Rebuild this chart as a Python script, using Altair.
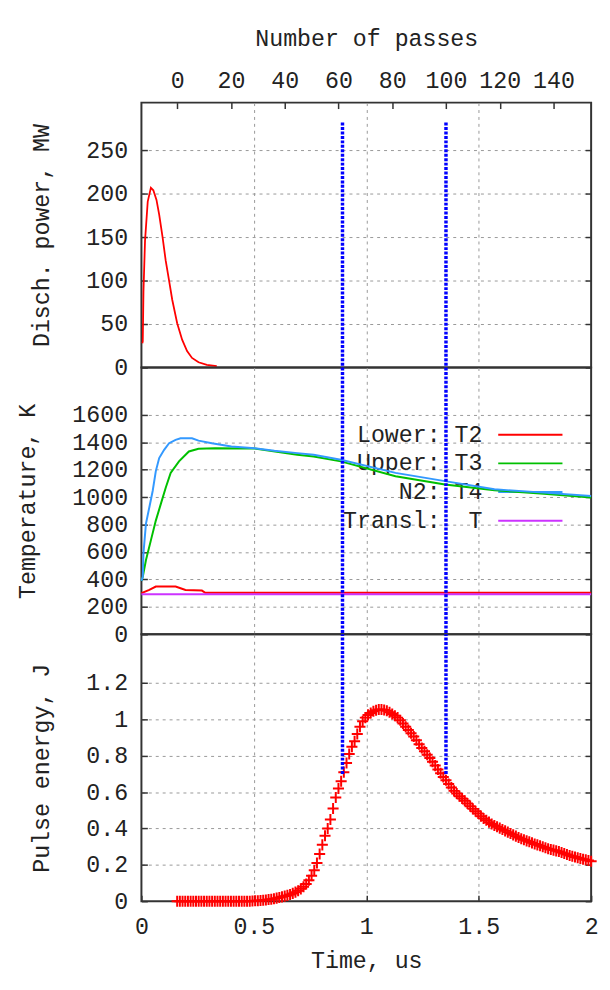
import altair as alt
import pandas as pd

# ---------------- data ----------------
POWER_T = [0.004, 0.006, 0.009, 0.016, 0.028, 0.042, 0.053, 0.067, 0.079, 0.094,
           0.108, 0.123, 0.137, 0.159, 0.181, 0.203, 0.225, 0.254, 0.291, 0.335]
POWER_MW = [28, 30, 87, 146, 191, 207, 204, 193, 176, 150,
            123, 100, 78, 51, 32, 19, 11, 6, 3, 1.5]

T2_T = [0.0, 0.035, 0.064, 0.152, 0.174, 0.196, 0.269, 0.284, 2.0]
T2_K = [300, 324, 348, 348, 336, 324, 319, 303, 303]

T3_T = [0.0, 0.006, 0.02, 0.042, 0.064, 0.086, 0.108, 0.13, 0.167, 0.211, 0.254,
        0.327, 0.503, 0.693, 0.766, 0.887, 1.13, 1.35, 1.57, 1.79, 2.0]
T3_K = [390, 420, 540, 685, 829, 949, 1069, 1177, 1261, 1333, 1353,
        1357, 1355, 1309, 1297, 1261, 1153, 1093, 1050, 1025, 997]

T4_T = [0.0, 0.006, 0.009, 0.02, 0.035, 0.05, 0.064, 0.079, 0.101, 0.123, 0.152,
        0.174, 0.225, 0.254, 0.313, 0.4, 0.503, 0.591, 0.693, 0.766, 0.887,
        1.13, 1.35, 1.57, 1.79, 2.0]
T4_K = [390, 420, 590, 805, 925, 1045, 1190, 1285, 1345, 1393, 1418,
        1429, 1429, 1412, 1393, 1369, 1357, 1338, 1321, 1309, 1273,
        1177, 1117, 1057, 1033, 1009]

TR_T = [0.0, 2.0]
TR_K = [293, 293]

ENERGY_J = [
    0, 0, 0, 0, 0, 0, 0, 0, 0, 0,
    0, 0, 0, 0, 0, 0, 0, 0, 0, 0,
    0, 0, 0, 0, 0, 0, 0, 0, 0.001, 0.002,
    0.003, 0.004, 0.005, 0.007, 0.009, 0.011, 0.014, 0.017, 0.02, 0.024,
    0.028, 0.032, 0.037, 0.043, 0.05, 0.058, 0.068, 0.08, 0.095, 0.115,
    0.14, 0.17, 0.21, 0.26, 0.31, 0.36, 0.40, 0.45, 0.51, 0.57,
    0.62, 0.66, 0.71, 0.76, 0.81, 0.85, 0.88, 0.92, 0.96, 0.99,
    1.01, 1.025, 1.035, 1.045, 1.05, 1.055, 1.055, 1.052, 1.048, 1.04,
    1.03, 1.02, 1.01, 0.995, 0.978, 0.96, 0.942, 0.924, 0.906, 0.885,
    0.864, 0.843, 0.825, 0.806, 0.788, 0.767, 0.746, 0.725, 0.704, 0.683,
    0.665, 0.645, 0.625, 0.607, 0.592, 0.578, 0.565, 0.553, 0.538, 0.523,
    0.508, 0.495, 0.482, 0.468, 0.455, 0.445, 0.435, 0.425, 0.417, 0.41,
    0.402, 0.395, 0.387, 0.38, 0.372, 0.365, 0.358, 0.35, 0.344, 0.338,
    0.332, 0.327, 0.321, 0.315, 0.31, 0.305, 0.3, 0.294, 0.289, 0.285,
    0.281, 0.277, 0.273, 0.268, 0.262, 0.257, 0.252, 0.247, 0.243, 0.239,
    0.235, 0.231, 0.228, 0.224, 0.22,
]
ENERGY_PASS = list(range(len(ENERGY_J)))

BLUE_PASSES = [61.5, 100]
BLUE_TOP_MW = 282
BLUE_BOTTOM_J = 0.7

PASSES_AT_T0 = -13.3
PASSES_PER_US = 83.65

TIME_TICKS = [0, 0.5, 1, 1.5, 2]
PASS_TICKS = [0, 20, 40, 60, 80, 100, 120, 140]
POWER_TICKS = [0, 50, 100, 150, 200, 250]
TEMP_TICKS = [0, 200, 400, 600, 800, 1000, 1200, 1400, 1600]
ENERGY_TICKS = [0, 0.2, 0.4, 0.6, 0.8, 1.0, 1.2]

POWER_DOMAIN = [0, 305]
TEMP_DOMAIN = [0, 1945]
ENERGY_DOMAIN = [0, 1.468]

LEGEND_LABELS = ["Lower: T2", "Upper: T3", "N2: T4", "Transl:\u00a0 T"]
SERIES_COLORS = ["#ff0000", "#00c000", "#3399ff", "#cc33ff"]

# ---------------- layout / style ----------------
FONT = "Liberation Mono"
FS = 23.5
W = 455
H1, H2, H3 = 268, 270, 270
INNER = 6
PLUS = "M-1,0H1M0,-1V1"


def tscale():
    return alt.Scale(domain=[0, 2], nice=False, zero=False)


def pscale():
    return alt.Scale(domain=[PASSES_AT_T0, PASSES_AT_T0 + 2 * PASSES_PER_US],
                     nice=False, zero=False)


def yscale(dom):
    return alt.Scale(domain=dom, nice=False, zero=False)


def frame_layers(ydom, yticks, ytitle, fmt, bottom_axis=None):
    anchor = pd.DataFrame({"t": [0, 2], "v": ydom})
    base = alt.Chart(anchor).mark_point(opacity=0, size=1)
    grid = base.encode(
        x=alt.X("t:Q", scale=tscale(),
                axis=alt.Axis(orient="bottom", values=[0.5, 1, 1.5], grid=True,
                              labels=False, ticks=False, domain=False, title=None)),
        y=alt.Y("v:Q", scale=yscale(ydom),
                axis=alt.Axis(orient="left", values=yticks[1:], grid=True,
                              labels=False, ticks=False, domain=False, title=None)),
    )
    left = base.encode(
        x=alt.X("t:Q", scale=tscale(), axis=bottom_axis),
        y=alt.Y("v:Q", scale=yscale(ydom),
                axis=alt.Axis(orient="left", values=yticks, format=fmt,
                              offset=-INNER, tickSize=INNER, domain=False,
                              grid=False, labelPadding=14, title=ytitle,
                              titlePadding=33)),
    )
    right = base.encode(
        x=alt.X("t:Q", scale=tscale(), axis=None),
        y=alt.Y("v:Q", scale=yscale(ydom),
                axis=alt.Axis(orient="right", values=yticks, offset=-INNER,
                              tickSize=INNER, domain=False, grid=False,
                              labels=False, title=None)),
    )
    return [grid, left, right]


blue_style = dict(color="#0000ff", strokeWidth=3.5, strokeDash=[3, 1.5])

# ---- panel 1: discharge power ----
df_power = pd.DataFrame({"t": POWER_T, "P": POWER_MW})
power_line = alt.Chart(df_power).mark_line(color="#ff0000", strokeWidth=1.8).encode(
    x=alt.X("t:Q", scale=tscale(), axis=None),
    y=alt.Y("P:Q", scale=yscale(POWER_DOMAIN), axis=None),
)
df_blue1 = pd.DataFrame({"p": BLUE_PASSES, "ytop": BLUE_TOP_MW, "ybot": 0})
blue1 = alt.Chart(df_blue1).mark_rule(**blue_style).encode(
    x=alt.X("p:Q", scale=pscale(),
            axis=alt.Axis(orient="top", values=PASS_TICKS, format="d",
                          offset=-INNER, tickSize=INNER, domain=False,
                          grid=False, labelPadding=10,
                          title="Number of passes", titlePadding=19)),
    y=alt.Y("ytop:Q", scale=yscale(POWER_DOMAIN), axis=None),
    y2="ybot:Q",
)
p1 = alt.layer(
    *frame_layers(POWER_DOMAIN, POWER_TICKS, "Disch. power, MW", "d"),
    power_line, blue1,
).resolve_scale(x="independent").resolve_axis(x="independent", y="independent").properties(
    width=W, height=H1)

# ---- panel 2: temperatures ----
legend_layers = []
for i, (lab, col) in enumerate(zip(LEGEND_LABELS, SERIES_COLORS)):
    ypix = 68 + 29 * i
    legend_layers.append(
        alt.Chart(alt.Data(values=[{}])).mark_text(
            text=lab, font=FONT, fontSize=FS, align="right", baseline="middle",
            color="#222").encode(x=alt.value(345), y=alt.value(ypix)))
    legend_layers.append(
        alt.Chart(alt.Data(values=[{}])).mark_rule(color=col, strokeWidth=2).encode(
            x=alt.value(361), x2=alt.value(426), y=alt.value(ypix)))

temp_layers = []
for tt, kk, col in zip([T2_T, T3_T, T4_T, TR_T], [T2_K, T3_K, T4_K, TR_K], SERIES_COLORS):
    d = pd.DataFrame({"t": tt, "K": kk})
    temp_layers.append(alt.Chart(d).mark_line(color=col, strokeWidth=2).encode(
        x=alt.X("t:Q", scale=tscale(), axis=None),
        y=alt.Y("K:Q", scale=yscale(TEMP_DOMAIN), axis=None),
    ))

df_blue2 = pd.DataFrame({"p": BLUE_PASSES})
blue2 = alt.Chart(df_blue2).mark_rule(**blue_style).encode(
    x=alt.X("p:Q", scale=pscale(), axis=None))

p2 = alt.layer(
    *frame_layers(TEMP_DOMAIN, TEMP_TICKS, "Temperature, K", "d"),
    *legend_layers, *temp_layers, blue2,
).resolve_scale(x="independent").resolve_axis(x="independent", y="independent").properties(
    width=W, height=H2)

# ---- panel 3: pulse energy ----
df_energy = pd.DataFrame({"p": ENERGY_PASS, "E": ENERGY_J})
energy_pts = alt.Chart(df_energy).mark_point(
    shape=PLUS, filled=False, size=125, strokeWidth=2, color="#ff0000", opacity=1
).encode(
    x=alt.X("p:Q", scale=pscale(), axis=None),
    y=alt.Y("E:Q", scale=yscale(ENERGY_DOMAIN), axis=None),
)
df_blue3 = pd.DataFrame({"p": BLUE_PASSES, "ylo": BLUE_BOTTOM_J})
blue3 = alt.Chart(df_blue3).mark_rule(**blue_style).encode(
    x=alt.X("p:Q", scale=pscale(), axis=None),
    y=alt.Y("ylo:Q", scale=yscale(ENERGY_DOMAIN), axis=None),
    y2=alt.value(0),
)
bottom_axis = alt.Axis(orient="bottom", values=TIME_TICKS, format="~g",
                       offset=-INNER, tickSize=INNER, domain=False, grid=False,
                       labelPadding=14, title="Time, us", titlePadding=11)
p3 = alt.layer(
    *frame_layers(ENERGY_DOMAIN, ENERGY_TICKS, "Pulse energy, J", "~g", bottom_axis),
    energy_pts, blue3,
).resolve_scale(x="independent").resolve_axis(x="independent", y="independent").properties(
    width=W, height=H3)

chart = alt.vconcat(p1, p2, p3, spacing=0, bounds="flush").properties(
    padding={"left": 6, "top": 12, "right": 0, "bottom": 3}
).configure_axis(
    labelFont=FONT, titleFont=FONT, labelFontSize=FS, titleFontSize=FS,
    titleFontWeight="normal", labelColor="#222", titleColor="#222",
    tickColor="#333", tickWidth=1.5, gridColor="#999", gridDash=[3, 4],
    gridWidth=1, gridOpacity=1, labelFlush=False, labelOverlap=False,
).configure_view(stroke="#333", strokeWidth=2)

chart.save("out.html", embed_options={"renderer": "svg", "actions": False})
